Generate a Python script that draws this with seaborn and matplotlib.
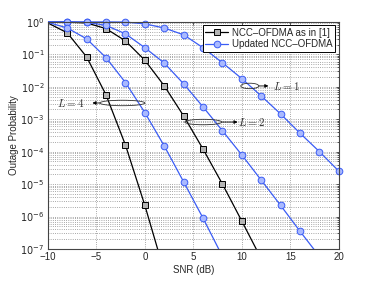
import numpy as np
import pandas as pd
import seaborn as sns
import matplotlib.pyplot as plt
from matplotlib.patches import Ellipse
from matplotlib.transforms import Bbox, TransformedBbox

# SNR grid (dB), 2 dB steps
snr = [-10, -8, -6, -4, -2, 0, 2, 4, 6, 8, 10, 12, 14, 16, 18, 20]

# NCC-OFDMA as in [1]
old_L4 = [0.93, 0.46, 8.3e-2, 5.6e-3, 1.6e-4, 2.2e-6, 2.0e-8]
old_L2 = [0.97, 0.98, 0.93, 0.62, 0.26, 6.6e-2, 1.07e-2, 1.26e-3, 1.2e-4, 1.0e-5, 7.2e-7, 5.0e-8]

# Updated NCC-OFDMA
new_L4 = [0.97, 0.65, 0.30, 7.9e-2, 1.35e-2, 1.6e-3, 1.5e-4, 1.17e-5, 8.9e-7, 5.9e-8]
new_L2 = [1.0, 0.995, 0.975, 0.78, 0.43, 0.16, 5.4e-2, 1.23e-2, 2.4e-3, 4.4e-4, 7.9e-5, 1.32e-5, 2.2e-6, 3.5e-7, 5.9e-8]
new_L1 = [1.0, 1.0, 1.0, 1.0, 0.99, 0.87, 0.65, 0.40, 0.16, 5.5e-2, 1.78e-2, 5.2e-3, 1.45e-3, 3.7e-4, 1.0e-4, 2.5e-5]

legend_labels = ['NCC\u2013OFDMA as in [1]', 'Updated NCC\u2013OFDMA']

sns.set_style('white')
plt.rcParams['font.family'] = ['Liberation Sans', 'DejaVu Sans']

fig = plt.figure(figsize=(3.74, 2.81), dpi=100)
ax = fig.add_axes([0.128, 0.114, 0.778, 0.808])

black = dict(color='black', marker='s', markersize=3.8, markerfacecolor='#b4b4b4',
             markeredgecolor='black', markeredgewidth=0.7, linewidth=0.9)
blue = dict(color='#3a5cf5', marker='o', markersize=4.8, markerfacecolor='#a9b9ff',
            markeredgecolor='#3a5cf5', markeredgewidth=0.7, linewidth=0.9)

# black curves first, blue on top; black L=2 squares near 10^0 are hidden in the original
sns.lineplot(x=snr[:len(old_L2)], y=old_L2, ax=ax, markevery=list(range(3, len(old_L2))),
             label=legend_labels[0], **black)
sns.lineplot(x=snr[:len(old_L4)], y=old_L4, ax=ax, markevery=list(range(1, len(old_L4))),
             **black)
for i, vals in enumerate([new_L1, new_L2, new_L4]):
    sns.lineplot(x=snr[:len(vals)], y=vals, ax=ax, markevery=list(range(1, len(vals))),
                 label=legend_labels[1] if i == 0 else None, **blue)

# let markers sitting on the top/right border show in full (lines still cut at the bottom)
clip = TransformedBbox(Bbox([[0, 0], [1.03, 1.04]]), ax.transAxes)
for ln in ax.lines:
    ln.set_clip_box(clip)

ax.set_yscale('log')
ax.set_xlim(-10, 20)
ax.set_ylim(1e-7, 1)
ax.set_xticks([-10, -5, 0, 5, 10, 15, 20])
ax.set_xticklabels(['\u221210', '\u22125', '0', '5', '10', '15', '20'])
ax.set_yticks([10.0 ** k for k in range(-7, 1)])
ax.set_yticklabels(['$10^{%d}$' % k for k in range(-7, 1)])
ax.set_xlabel('SNR (dB)', fontsize=7, labelpad=2)
ax.set_ylabel('Outage Probability', fontsize=7, labelpad=1)
ax.tick_params(axis='both', which='both', direction='in', top=True, right=True,
               labelsize=7, pad=2.5, length=2.5, width=0.5)
ax.tick_params(axis='y', which='minor', length=1.5)

ax.grid(True, which='major', axis='x', linestyle=':', linewidth=0.6, color='#8a8a8a')
ax.grid(True, which='both', axis='y', linestyle=':', linewidth=0.6, color='#8a8a8a')
for s in ax.spines.values():
    s.set_color('#444444')
    s.set_linewidth(0.8)

leg = ax.legend(loc='upper right', fontsize=7, frameon=True, fancybox=False,
                borderpad=0.25, handlelength=2.4, handletextpad=0.4,
                labelspacing=0.15, borderaxespad=0.35)
leg.get_frame().set_edgecolor('black')
leg.get_frame().set_linewidth(0.7)
leg.get_frame().set_alpha(1)
leg.set_zorder(10)

# diversity order annotations
def mark_group(cx, cy, w, x0, x1, tx, txt):
    ax.add_patch(Ellipse((cx, cy), w, 0.024, transform=ax.transAxes, fill=False,
                         edgecolor='#303030', linewidth=0.6, zorder=5))
    ax.annotate('', xy=(x1, cy), xytext=(x0, cy), xycoords='axes fraction',
                arrowprops=dict(arrowstyle='-|>', color='black', lw=0.6,
                                mutation_scale=5, shrinkA=0, shrinkB=0))
    ax.text(tx, cy, txt, transform=ax.transAxes, fontsize=8, ha='center',
            va='center', color='#333333', math_fontfamily='cm')

mark_group(0.694, 0.718, 0.062, 0.725, 0.758, 0.82, '$L=1$')
mark_group(0.534, 0.559, 0.127, 0.598, 0.652, 0.70, '$L=2$')
mark_group(0.256, 0.643, 0.155, 0.178, 0.153, 0.08, '$L=4$')

fig.savefig('out.png', dpi=100)
